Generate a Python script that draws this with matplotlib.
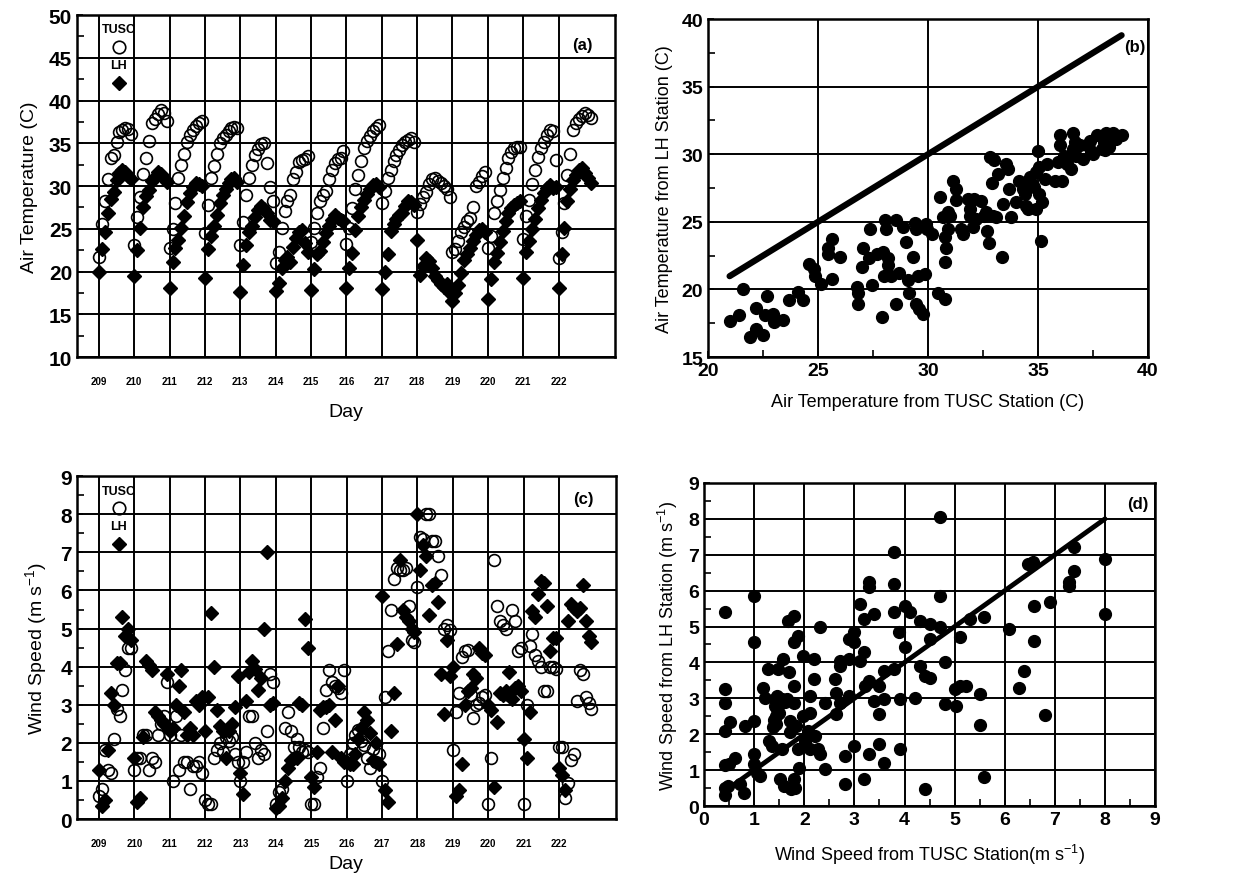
import numpy as np
import matplotlib.pyplot as plt
from matplotlib.ticker import MultipleLocator

plt.rcParams['font.family'] = ['Liberation Sans', 'DejaVu Sans']
plt.rcParams['mathtext.default'] = 'regular'
plt.rcParams['axes.unicode_minus'] = False

days = list(range(209, 223))
hours = np.arange(7, 19)          # 12 daytime readings per day

# air temperature (C), one row per day
temp_tusc = [
    [21.7, 25.6, 28.2, 30.8, 33.3, 33.6, 35.1, 36.3, 36.6, 36.8, 36.7, 36.1],
    [23.1, 26.4, 28.7, 31.4, 33.3, 35.3, 37.4, 37.8, 38.4, 38.9, 38.6, 37.6],
    [22.7, 25.0, 28.0, 30.9, 32.5, 33.8, 35.1, 36.0, 36.6, 37.0, 37.4, 37.6],
    [24.5, 27.8, 30.9, 32.3, 33.7, 35.0, 35.6, 36.0, 36.4, 36.8, 36.9, 36.8],
    [23.1, 25.8, 28.9, 31.0, 32.5, 33.6, 34.3, 34.9, 35.0, 32.7, 29.9, 28.3],
    [21.0, 22.3, 25.1, 27.1, 28.2, 29.0, 30.8, 31.6, 32.8, 33.0, 33.2, 33.5],
    [23.5, 25.1, 26.9, 28.2, 29.0, 29.4, 30.8, 31.9, 32.7, 33.2, 33.3, 34.1],
    [23.2, 25.1, 27.4, 29.6, 31.3, 32.9, 34.4, 35.3, 35.9, 36.4, 36.8, 37.1],
    [28.0, 29.4, 30.9, 31.9, 32.9, 33.6, 34.2, 34.8, 35.2, 35.4, 35.6, 35.2],
    [27.0, 27.9, 28.7, 29.3, 30.2, 30.8, 31.0, 30.6, 30.4, 30.0, 29.6, 28.7],
    [22.3, 22.6, 23.6, 24.6, 25.2, 25.9, 26.3, 27.6, 30.0, 30.5, 31.2, 31.6],
    [22.7, 24.2, 26.9, 28.2, 29.5, 30.9, 32.1, 33.3, 34.0, 34.4, 34.6, 34.6],
    [23.8, 26.5, 28.4, 30.2, 31.9, 33.4, 34.4, 35.2, 36.0, 36.6, 36.4, 33.1],
    [21.6, 24.6, 28.0, 31.3, 33.8, 36.5, 37.4, 37.8, 38.2, 38.5, 38.3, 38.0],
]
temp_lh = [
    [20.0, 22.6, 24.6, 26.9, 28.5, 29.3, 30.7, 31.5, 31.9, 31.6, 31.2, 30.8],
    [19.5, 22.5, 25.1, 27.6, 28.8, 29.5, 30.6, 31.1, 31.6, 31.4, 30.9, 30.5],
    [18.1, 21.1, 22.8, 23.7, 25.1, 26.5, 28.1, 29.2, 29.9, 30.3, 30.2, 30.0],
    [19.2, 22.6, 24.2, 25.3, 26.6, 28.0, 29.0, 29.7, 30.3, 30.8, 30.9, 30.5],
    [17.6, 20.8, 23.1, 24.6, 25.3, 26.4, 27.2, 27.7, 27.3, 26.8, 26.0, 25.9],
    [17.7, 18.7, 20.4, 21.4, 21.7, 21.1, 22.9, 23.9, 24.6, 24.9, 23.3, 22.3],
    [17.8, 20.3, 22.0, 22.4, 23.5, 24.5, 25.3, 26.0, 26.6, 26.3, 26.0, 25.9],
    [18.1, 20.4, 22.2, 24.9, 26.5, 27.5, 28.4, 29.1, 29.7, 30.1, 30.2, 29.9],
    [17.9, 19.9, 22.1, 24.8, 25.6, 26.2, 26.6, 26.8, 27.7, 28.2, 28.1, 27.8],
    [23.7, 19.6, 20.6, 21.6, 21.2, 20.4, 19.5, 19.0, 18.6, 18.2, 18.5, 17.5],
    [16.6, 17.5, 18.4, 19.8, 21.3, 22.0, 22.8, 23.6, 24.3, 24.9, 25.0, 24.6],
    [16.8, 19.1, 21.1, 22.2, 23.5, 24.7, 25.9, 26.8, 27.4, 27.8, 28.0, 28.2],
    [19.2, 22.3, 23.6, 25.0, 26.2, 27.4, 28.4, 29.2, 29.8, 30.1, 29.8, 29.9],
    [18.1, 22.0, 25.1, 28.2, 29.7, 30.7, 31.3, 31.9, 32.1, 31.5, 30.9, 30.3],
]

# wind speed (m/s), one row per day
wind_tusc = [
    [0.6, 0.8, 1.8, 1.3, 1.2, 2.1, 2.9, 2.7, 3.4, 3.9, 4.5, 4.5],
    [1.3, 1.6, 1.6, 2.2, 2.2, 1.3, 1.6, 1.5, 2.2, 2.5, 2.7, 3.6],
    [2.2, 1.0, 2.7, 1.3, 2.2, 1.5, 1.5, 0.8, 1.4, 1.4, 1.5, 1.2],
    [0.5, 0.4, 0.4, 1.6, 1.8, 2.0, 1.75, 2.15, 2.05, 2.15, 1.7, 1.5],
    [1.0, 1.5, 1.75, 2.7, 2.7, 2.0, 1.6, 1.8, 1.7, 2.3, 3.8, 3.6],
    [0.4, 0.7, 0.8, 2.4, 2.8, 2.3, 1.9, 2.1, 1.9, 1.75, 1.8, 1.75],
    [0.4, 0.4, 1.1, 1.35, 2.4, 3.4, 3.9, 3.6, 3.5, 3.45, 3.3, 3.9],
    [1.0, 1.7, 2.0, 2.2, 2.35, 2.05, 1.95, 1.6, 1.35, 1.85, 1.5, 1.7],
    [1.0, 3.2, 4.4, 5.5, 6.3, 6.6, 6.55, 6.55, 6.6, 5.6, 4.7, 4.65],
    [6.1, 7.4, 7.35, 8.0, 8.0, 7.3, 7.3, 6.9, 6.4, 5.0, 5.1, 4.95],
    [1.8, 2.8, 3.3, 4.25, 4.4, 4.45, 3.25, 2.65, 3.0, 3.05, 3.2, 3.25],
    [0.4, 1.6, 6.8, 5.6, 5.2, 5.1, 5.0, 3.25, 5.5, 5.2, 4.4, 4.5],
    [0.4, 3.0, 4.55, 4.85, 4.3, 4.15, 4.0, 3.35, 3.35, 4.0, 4.0, 3.95],
    [1.9, 1.9, 0.55, 0.95, 1.55, 1.7, 3.1, 3.9, 3.8, 3.2, 3.05, 2.9],
]
wind_lh = [
    [1.3, 0.35, 0.5, 1.8, 3.3, 3.0, 4.1, 4.1, 5.3, 4.8, 5.0, 4.7],
    [1.6, 0.45, 0.55, 2.15, 4.15, 4.05, 3.9, 2.8, 2.7, 2.6, 2.5, 3.8],
    [2.3, 2.4, 3.0, 3.5, 3.9, 2.8, 2.2, 2.4, 2.2, 3.1, 3.0, 3.2],
    [2.3, 3.2, 5.4, 4.0, 2.85, 2.45, 2.3, 1.6, 2.3, 2.5, 2.95, 3.75],
    [1.2, 0.65, 3.1, 3.85, 4.15, 3.95, 3.4, 3.7, 5.0, 7.0, 3.0, 3.05],
    [0.3, 0.35, 0.55, 1.0, 1.35, 1.55, 1.6, 1.6, 3.05, 3.0, 5.25, 4.5],
    [1.1, 0.85, 1.75, 2.85, 2.95, 2.95, 3.0, 1.75, 2.6, 3.5, 1.6, 1.5],
    [1.5, 1.45, 1.45, 1.7, 2.1, 2.4, 2.8, 2.6, 2.25, 1.55, 2.0, 1.45],
    [5.85, 0.75, 0.45, 2.3, 3.3, 4.6, 6.8, 5.5, 5.3, 5.2, 5.0, 4.9],
    [8.0, 6.55, 7.2, 6.9, 5.35, 6.15, 6.2, 5.7, 3.8, 2.75, 4.7, 3.75],
    [4.0, 0.6, 0.75, 1.45, 3.0, 3.35, 3.45, 3.8, 3.7, 4.5, 4.35, 4.3],
    [3.0, 2.85, 0.85, 2.55, 3.3, 3.25, 3.35, 3.85, 3.15, 3.45, 3.5, 3.35],
    [2.1, 1.6, 2.8, 5.45, 5.3, 5.9, 6.25, 6.2, 5.6, 4.4, 4.75, 4.75],
    [1.35, 1.15, 0.75, 5.2, 5.65, 5.55, 5.45, 5.55, 6.15, 5.2, 4.8, 4.65],
]

# station-to-station comparison, air temperature (TUSC, LH)
cmp_temp_tusc = [
    20.98, 21.4, 21.6, 21.9, 22.2, 22.2, 22.5, 22.7, 22.6, 22.95, 23.0, 23.4, 23.7, 24.1, 24.3,
    24.6, 24.8, 24.85, 25.15, 25.45, 25.45, 25.65, 25.65, 26.0, 26.75, 26.8, 26.8, 27.05, 27.0,
    27.35, 27.3, 27.45, 27.7, 27.9, 27.95, 28.05, 28.1, 28.0, 28.2, 28.2, 28.3, 28.55, 28.55,
    28.7, 28.85, 29.0, 29.1, 29.15, 29.3, 29.4, 29.45, 29.45, 29.6, 29.75, 29.55, 29.85, 29.9,
    29.95, 30.2, 30.45, 30.55, 30.7, 30.75, 30.75, 30.8, 30.75, 30.9, 30.9, 31.0, 31.15, 31.25,
    31.25, 31.5, 31.6, 31.8, 31.9, 32.05, 32.1, 32.2, 32.4, 32.55, 32.65, 32.7, 32.75, 32.8,
    32.9, 33.0, 33.1, 33.2, 33.35, 33.4, 33.55, 33.65, 33.7, 33.75, 34.0, 34.15, 34.3, 34.4,
    34.45, 34.55, 34.65, 34.8, 34.9, 35.0, 34.9, 35.05, 35.15, 35.2, 35.3, 35.4, 35.75, 35.9,
    36.0, 36.0, 36.1, 36.2, 36.4, 36.5, 36.6, 36.6, 36.75, 36.9, 37.05, 37.25, 37.4, 37.5,
    37.7, 37.9, 38.0, 38.1, 38.25, 38.4, 38.55, 38.8, 34.7, 35.05, 36.3, 36.7, 37.35, 38.05,
    32.95, 31.9,
]
cmp_temp_lh = [
    17.64, 18.1, 20.05, 16.5, 18.6, 17.1, 16.65, 19.55, 18.1, 18.2, 17.6, 17.75, 19.2, 19.8, 19.25,
    21.9, 21.5, 21.0, 20.4, 23.05, 22.6, 23.7, 20.8, 22.4, 20.2, 19.7, 18.95, 23.1, 21.65,
    24.5, 22.3, 20.35, 22.65, 17.95, 22.75, 25.1, 24.5, 21.0, 22.3, 21.8, 21.0, 25.1, 18.95,
    21.2, 24.6, 23.5, 20.7, 19.7, 22.4, 24.95, 24.5, 18.9, 18.55, 18.2, 21.0, 21.15, 24.85,
    24.5, 24.1, 19.7, 26.8, 25.35, 19.3, 23.9, 23.1, 22.0, 24.5, 25.7, 25.45, 28.05, 27.45,
    26.6, 24.5, 24.1, 26.7, 25.45, 24.6, 26.7, 25.2, 26.55, 25.45, 25.7, 24.35, 23.4, 29.8,
    27.9, 29.55, 25.35, 28.55, 22.4, 26.35, 29.3, 28.9, 27.45, 25.35, 26.45, 28.05, 27.45, 27.05,
    26.2, 25.95, 28.3, 27.55, 28.65, 30.25, 25.95, 29.05, 23.6, 26.45, 28.2, 29.3, 28.05, 29.4,
    31.4, 30.65, 28.05, 29.9, 29.8, 28.9, 31.6, 30.4, 29.9, 30.65, 29.65, 30.65, 30.25, 30.0,
    31.4, 30.4, 30.9, 31.6, 30.5, 31.6, 31.15, 31.4, 27.9, 27.05, 29.3, 30.9, 31.0, 30.3,
    25.45, 25.95,
]

# station-to-station comparison, wind speed (TUSC, LH)
cmp_wind_tusc = [
    0.42, 0.42, 0.42, 0.42, 0.52, 0.42, 0.5, 0.62, 0.42, 0.42, 0.48, 0.82, 0.8, 0.72,
    1.0, 1.0, 1.0, 1.0, 1.0, 1.05, 1.11, 1.17, 1.21, 1.28, 1.3, 1.35, 1.41, 1.41, 1.43, 1.43,
    1.48, 1.46, 1.51, 1.55, 1.55, 1.58, 1.59, 1.65, 1.68, 1.7, 1.71, 1.71, 1.73, 1.79, 1.79,
    1.79, 1.79, 1.79, 1.81, 1.88, 1.88, 1.9, 1.84, 1.98, 1.98, 2.01, 2.08, 2.11, 2.11, 2.12,
    2.19, 2.19, 2.21, 2.28, 2.31, 2.31, 2.41, 2.41, 2.61, 2.63, 2.64, 2.71, 2.71, 2.71, 2.81,
    2.81, 2.89, 2.9, 2.9, 3.0, 3.0, 3.0, 3.11, 3.11, 3.2, 3.2, 3.2, 3.22, 3.3, 3.3, 3.3, 3.3,
    3.4, 3.4, 3.5, 3.5, 3.5, 3.6, 3.6, 3.6, 3.8, 3.8, 3.8, 3.8, 3.89, 3.9, 3.9, 4.0, 4.0, 4.1,
    4.2, 4.3, 4.3, 4.4, 4.4, 4.5, 4.5, 4.5, 4.7, 4.7, 4.7, 4.8, 4.8, 5.0, 5.02, 5.1, 5.1, 5.22,
    5.3, 5.5, 5.5, 5.59, 5.59, 6.09, 6.29, 6.39, 6.46, 6.56, 6.59, 6.59, 6.81, 6.9, 7.29, 7.29,
    7.39, 7.39, 8.0, 8.0, 1.37, 1.5, 1.45, 1.62, 1.4,
]
cmp_wind_lh = [
    5.4, 3.26, 2.88, 2.09, 2.33, 1.13, 1.16, 1.35, 0.51, 0.3, 0.56, 2.23, 0.37, 0.6,
    5.86, 4.58, 2.37, 1.44, 1.16, 0.93, 0.84, 3.3, 3.02, 3.81, 1.81, 1.67, 2.98, 2.79, 2.51, 2.28,
    3.81, 3.07, 0.74, 2.98, 1.58, 4.09, 0.56, 2.98, 5.16, 3.72, 2.37, 2.05, 0.47, 5.3, 4.56,
    3.35, 2.88, 0.74, 0.51, 4.74, 1.58, 1.07, 2.23, 4.19, 2.51, 1.81, 2.09, 3.07, 2.6, 1.58,
    4.09, 3.53, 1.95, 1.58, 4.98, 1.44, 1.02, 2.88, 3.53, 3.16, 2.56, 4.05, 3.9, 2.88, 1.4,
    0.6, 4.65, 4.09, 3.07, 4.84, 4.56, 1.67, 5.63, 4.05, 5.21, 4.28, 0.74, 3.35, 6.23, 6.09, 3.49,
    1.44, 5.35, 2.93, 3.35, 2.56, 1.72, 3.77, 2.98, 1.21, 7.07, 6.19, 5.4, 3.81, 4.84, 2.98,
    1.58, 5.58, 4.42, 5.4, 3.02, 5.16, 3.91, 3.63, 0.47, 5.07, 4.65, 3.58, 8.05, 5.86, 4.98,
    4.0, 2.84, 3.26, 2.79, 4.7, 3.35, 3.35, 5.21, 3.12, 2.25, 5.26, 0.82, 4.93, 3.3, 3.77,
    6.74, 6.79, 5.58, 4.6, 2.53, 5.67, 6.23, 6.14, 7.21, 6.56, 6.88, 5.35, 2.19, 2.6, 2.7, 2.9, 2.4,
]

BOLD = dict(fontweight='bold')


def style_axes(ax):
    for sp in ax.spines.values():
        sp.set_linewidth(1.8)
        sp.set_zorder(4)
    ax.grid(True, which='major', color='black', linewidth=1.4, zorder=0)
    ax.set_axisbelow(True)
    ax.tick_params(which='major', direction='in', length=4, width=1.2)
    ax.tick_params(which='minor', direction='in', length=5, width=1.2)


def day_series(ax, tusc, lh, ylim, ystep, yminor, ylabel, xpad):
    for i, d in enumerate(days):
        x = d + (hours - hours[0]) / len(hours)
        ax.plot(x, tusc[i], 'o', ms=8.5, mfc='none', mec='black', mew=1.2, zorder=3)
        ax.plot(x, lh[i], 'D', ms=7.5, mfc='black', mec='black', zorder=3)
    ax.set_xlim(208.38, 223.6)
    ax.set_ylim(*ylim)
    ax.set_xticks(days)
    ax.set_xticklabels([str(d) for d in days], fontsize=7, fontweight='bold')
    ax.tick_params(axis='x', length=0, pad=14)
    ax.yaxis.set_major_locator(MultipleLocator(ystep))
    ax.yaxis.set_minor_locator(MultipleLocator(yminor))
    for lab in ax.get_yticklabels():
        lab.set_fontsize(15)
        lab.set_fontweight('bold')
    ax.set_xlabel('Day', fontsize=14, labelpad=xpad)
    ax.set_ylabel(ylabel, fontsize=14, labelpad=8)
    # in-plot key
    ax.text(0.078, 0.958, 'TUSC', transform=ax.transAxes, ha='center', va='center',
            fontsize=9, **BOLD)
    ax.plot([0.078], [0.907], 'o', ms=9, mfc='none', mec='black', mew=1.2,
            transform=ax.transAxes, zorder=5)
    ax.text(0.078, 0.854, 'LH', transform=ax.transAxes, ha='center', va='center',
            fontsize=9, **BOLD)
    ax.plot([0.078], [0.801], 'D', ms=7.5, mfc='black', mec='black',
            transform=ax.transAxes, zorder=5)


def comparison(ax, xs, ys, lim, step, minor, xlabel, ylabel, lw):
    ax.plot(xs, ys, 'o', ms=8.5, mfc='black', mec='black', zorder=3)
    lo, hi = min(xs), max(xs)
    ax.plot([lo, hi], [lo, hi], color='black', linewidth=lw, solid_capstyle='round', zorder=3)
    ax.set_xlim(*lim[0])
    ax.set_ylim(*lim[1])
    for axis in (ax.xaxis, ax.yaxis):
        axis.set_major_locator(MultipleLocator(step))
        axis.set_minor_locator(MultipleLocator(minor))
    for lab in ax.get_xticklabels() + ax.get_yticklabels():
        lab.set_fontsize(14)
        lab.set_fontweight('bold')
    ax.set_xlabel(xlabel, fontsize=13, labelpad=10)
    ax.set_ylabel(ylabel, fontsize=13, labelpad=6)


fig = plt.figure(figsize=(12.47, 8.79), dpi=100)

ax_a = fig.add_axes([0.0617, 0.5927, 0.4316, 0.389])
ax_b = fig.add_axes([0.5678, 0.5927, 0.3528, 0.3845])
ax_c = fig.add_axes([0.0617, 0.0671, 0.432, 0.390])
ax_d = fig.add_axes([0.5646, 0.0819, 0.3617, 0.3675])

for ax in (ax_a, ax_b, ax_c, ax_d):
    style_axes(ax)

day_series(ax_a, temp_tusc, temp_lh, (10, 50), 5, 2.5, 'Air Temperature (C)', 12)
day_series(ax_c, wind_tusc, wind_lh, (0, 9), 1, 0.5, 'Wind Speed (m s$^{-1}$)', 5)

comparison(ax_b, cmp_temp_tusc, cmp_temp_lh, ((20, 40), (15, 40)), 5, 2.5,
           'Air Temperature from TUSC Station (C)', 'Air Temperature from LH Station (C)', 4.5)
comparison(ax_d, cmp_wind_tusc, cmp_wind_lh, ((0, 9), (0, 9)), 1, 0.5,
           'Wind Speed from TUSC Station(m s$^{-1}$)', 'Wind Speed from LH Station (m s$^{-1}$)', 3.5)

ax_a.text(0.94, 0.915, '(a)', transform=ax_a.transAxes, ha='center', va='center', fontsize=12, **BOLD)
ax_c.text(0.94, 0.936, '(c)', transform=ax_c.transAxes, ha='center', va='center', fontsize=12, **BOLD)
ax_b.text(0.97, 0.92, '(b)', transform=ax_b.transAxes, ha='center', va='center', fontsize=12, **BOLD)
ax_d.text(0.962, 0.935, '(d)', transform=ax_d.transAxes, ha='center', va='center', fontsize=12, **BOLD)

fig.savefig('out.png', dpi=100)
